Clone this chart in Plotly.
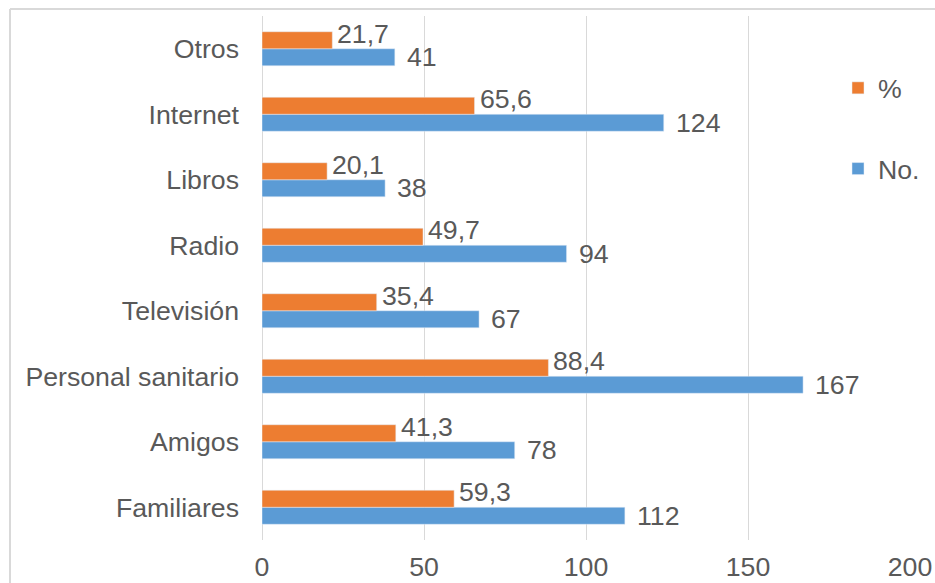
import plotly.graph_objects as go

categories = ["Familiares", "Amigos", "Personal sanitario", "Televisión", "Radio", "Libros", "Internet", "Otros"]
no_values = [112, 78, 167, 67, 94, 38, 124, 41]
pct_values = [59.3, 41.3, 88.4, 35.4, 49.7, 20.1, 65.6, 21.7]
x_ticks = [0, 50, 100, 150, 200]

GRAY = "#595959"
FONT = "Liberation Sans, Arial, sans-serif"
FS = 26.7

fig = go.Figure()
fig.add_trace(go.Bar(
    y=categories, x=no_values, orientation="h", name="No.",
    marker=dict(color="#5B9BD5"), legendgroup="b", legendrank=2,
))
fig.add_trace(go.Bar(
    y=categories, x=pct_values, orientation="h", name="%",
    marker=dict(color="#ED7D31"), legendgroup="a", legendrank=1,
))

annotations = []
for cat, v in zip(categories, pct_values):
    annotations.append(dict(x=v, y=cat, xref="x", yref="y", text=f"{v:.1f}".replace(".", ","),
                            showarrow=False, xanchor="left", yanchor="middle",
                            xshift=3, yshift=15,
                            font=dict(size=FS, color=GRAY, family=FONT)))
for cat, v in zip(categories, no_values):
    annotations.append(dict(x=v, y=cat, xref="x", yref="y", text=str(v),
                            showarrow=False, xanchor="left", yanchor="middle",
                            xshift=10, yshift=-8.5,
                            font=dict(size=FS, color=GRAY, family=FONT)))

L, R, T, B = 262, 25, 16, 43
W, H = 935, 583
pw, ph = W - L - R, H - T - B

fig.update_layout(
    width=W, height=H,
    margin=dict(l=L, r=R, t=T, b=B, autoexpand=False),
    paper_bgcolor="white", plot_bgcolor="white",
    barmode="group", bargap=0.48, bargroupgap=0,
    font=dict(family=FONT, size=FS, color=GRAY),
    showlegend=True,
    legend=dict(x=(838 - L) / pw, xanchor="left", y=1 - (64 - T) / ph, yanchor="top",
                traceorder="grouped", tracegroupgap=43,
                font=dict(size=FS, color=GRAY, family=FONT), bgcolor="rgba(0,0,0,0)"),
    xaxis=dict(range=[0, 200], tickvals=x_ticks, showgrid=True, gridcolor="#D9D9D9",
               gridwidth=1, zeroline=True, zerolinecolor="#D9D9D9", zerolinewidth=1,
               showline=False, ticks="", automargin=False, ticklabelstandoff=8,
               tickfont=dict(size=FS, color=GRAY, family=FONT)),
    yaxis=dict(range=[-0.5, 7.5], showgrid=False, showline=False, ticks="", automargin=False,
               ticklabelstandoff=22, tickfont=dict(size=FS, color=GRAY, family=FONT)),
    annotations=annotations,
    shapes=[
        dict(type="line", xref="paper", yref="paper",
             x0=(10 - L) / pw, x1=(W + 5 - L) / pw, y0=1 + (T - 9) / ph, y1=1 + (T - 9) / ph,
             line=dict(color="#D9D9D9", width=2)),
        dict(type="line", xref="paper", yref="paper",
             x0=(10 - L) / pw, x1=(10 - L) / pw, y0=1 + (T - 9) / ph, y1=-(B + 5) / ph,
             line=dict(color="#D9D9D9", width=2)),
    ],
)

fig.write_html("out.html")
